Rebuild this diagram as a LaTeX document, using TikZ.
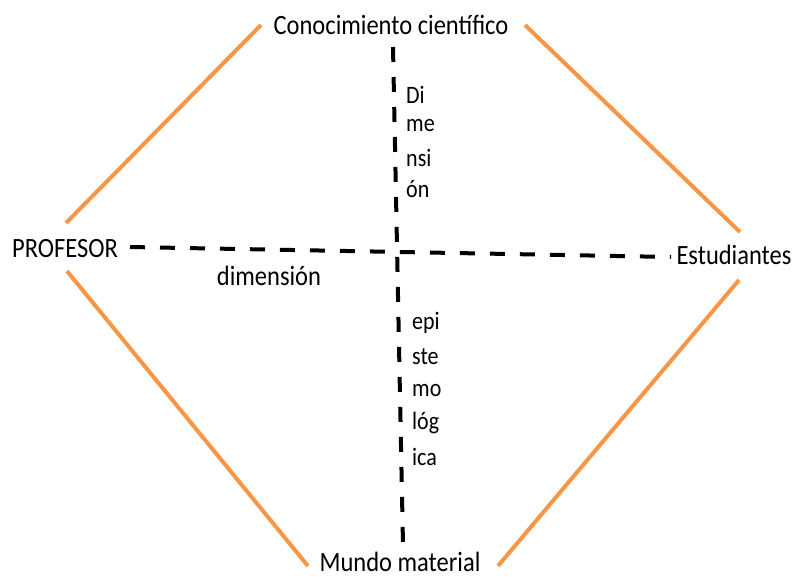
\documentclass[tikz,border=0pt]{standalone}
\usepackage{fontspec}
\setmainfont{Carlito}
\definecolor{accentorange}{RGB}{247,150,70}
\newcommand{\tallText}[1]{\scalebox{1}[1.14]{#1}}
\tikzset{
  lbl/.style={inner sep=0pt, font=\fontsize{24.5}{29}\selectfont},
  col/.style={inner sep=0pt, anchor=west, font=\fontsize{22}{26}\selectfont},
  edge/.style={draw=accentorange, line width=4pt},
  axis/.style={draw=black, line width=4pt, dash pattern=on 15pt off 15pt}
}
\begin{document}
\begin{tikzpicture}[x=1pt,y=-1pt]
\useasboundingbox (0,0) rectangle (799,578);
% labels
\node[lbl] (con) at (391,25) {\tallText{Conocimiento científico}};
\node[lbl] (prof) at (65,249) {\tallText{PROFESOR}};
\node[lbl] (est) at (734,255) {\tallText{Estudiantes}};
\node[lbl, anchor=base] (mun) at (400,571) {\tallText{Mundo material}};
\node[lbl] (dim) at (269,276) {\tallText{dimensión}};
% top column
\node[col] (t1) at (406,95) {\tallText{Di}};
\node[col] (t2) at (406,126) {\tallText{me}};
\node[col] (t3) at (406,158) {\tallText{nsi}};
\node[col] (t4) at (406,189) {\tallText{ón}};
% bottom column
\node[col] (b1) at (412,323) {\tallText{epi}};
\node[col] (b2) at (412,357) {\tallText{ste}};
\node[col] (b3) at (412,390) {\tallText{mo}};
\node[col] (b4) at (412,423) {\tallText{lóg}};
\node[col] (b5) at (412,457) {\tallText{ica}};
% orange edges
\coordinate (tl1) at (66,223); \coordinate (tl2) at (261,25);
\coordinate (tr1) at (525,25); \coordinate (tr2) at (740,232);
\coordinate (bl1) at (67,271); \coordinate (bl2) at (308,566);
\coordinate (br1) at (739,280); \coordinate (br2) at (498,566);
\draw[edge] (tl1) -- (tl2);
\draw[edge] (tr1) -- (tr2);
\draw[edge] (bl1) -- (bl2);
\draw[edge] (br1) -- (br2);
% dashed axes
\coordinate (h1) at (130,247); \coordinate (h2) at (671,257);
\coordinate (v1) at (393,47); \coordinate (v2) at (403,545);
\draw[axis] (h1) -- (h2);
\draw[axis] (v1) -- (v2);
\end{tikzpicture}
\end{document}
